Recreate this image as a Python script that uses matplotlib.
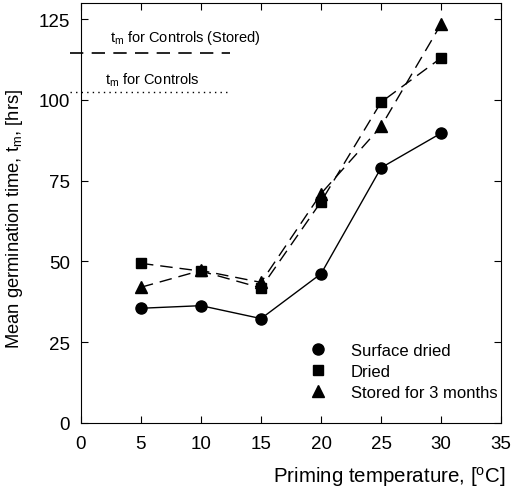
import matplotlib.pyplot as plt

plt.rcParams['font.family'] = ['Liberation Sans', 'DejaVu Sans']

temps = [5, 10, 15, 20, 25, 30]
surface_dried = [35.5, 36.3, 32.3, 46.2, 79.0, 89.7]
dried = [49.4, 47.0, 41.8, 68.5, 99.3, 113.0]
stored = [42.0, 47.2, 43.5, 71.0, 91.8, 123.5]

tm_controls_stored = 114.5
tm_controls = 102.3

fig = plt.figure(figsize=(5.12, 4.89), dpi=100)
ax = fig.add_axes([0.158, 0.133, 0.821, 0.859])

ax.plot(temps, surface_dried, '-', color='k', lw=1.0, marker='o', ms=8, label='Surface dried')
ax.plot(temps, dried, '--', color='k', lw=1.0, dashes=(9, 5), marker='s', ms=7, label='Dried')
ax.plot(temps, stored, '--', color='k', lw=1.0, dashes=(9, 5), marker='^', ms=8, label='Stored for 3 months')

# control reference lines
ax.plot([-0.9, 12.4], [tm_controls_stored] * 2, color='k', lw=1.2, dashes=(8, 5), clip_on=False)
ax.plot([-0.9, 12.2], [tm_controls] * 2, color='k', lw=1.0, dashes=(1, 3), clip_on=False)
ax.text(2.4, 116.8, r'$\mathregular{t_m}$ for Controls (Stored)', fontsize=10.5, va='bottom')
ax.text(2.0, 103.6, r'$\mathregular{t_m}$ for Controls', fontsize=10.5, va='bottom')

ax.set_xlim(0, 35)
ax.set_ylim(0, 130)
ax.set_xticks(range(0, 36, 5))
ax.set_yticks(range(0, 126, 25))
ax.tick_params(direction='in', top=True, right=True, labelsize=13.5, length=5)
ax.tick_params(axis='x', pad=9)
ax.tick_params(axis='y', pad=8)

# axis titles placed in figure coordinates
fig.text(0.988, 0.013, r'Priming temperature, [$\mathregular{^oC}$]', fontsize=14.8,
         ha='right', va='baseline')
fig.text(0.028, 0.552, r'Mean germination time, $\mathregular{t_m}$, [hrs]', fontsize=13.2,
         rotation=90, ha='center', va='center')

ax.legend(loc='lower right', frameon=False, fontsize=12, handlelength=1.5, handletextpad=1.2,
          labelspacing=0.35, bbox_to_anchor=(1.026, 0.02))
leg = ax.get_legend()
for h in leg.legend_handles:
    h.set_linestyle('none')

fig.savefig('out.png', dpi=100)
